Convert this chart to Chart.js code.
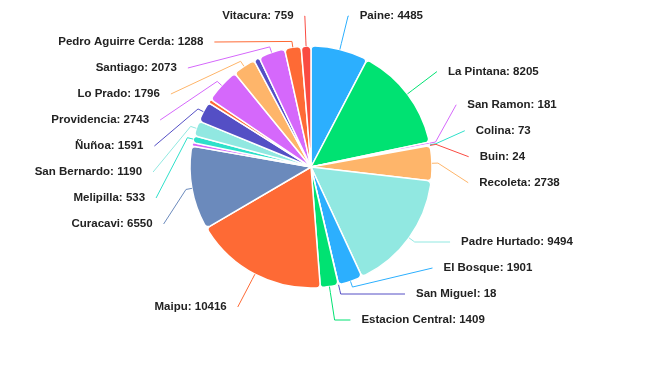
<!DOCTYPE html>
<html>
<head>
<meta charset="utf-8">
<script src="https://cdn.jsdelivr.net/npm/chart.js@4/dist/chart.umd.min.js"></script>
<style>
  html, body { margin: 0; padding: 0; background: #fff; }
  #chartCanvas { display: block; }
</style>
</head>
<body>
<canvas id="chartCanvas" width="650" height="365"></canvas>
<script>
// slices in drawing order, clockwise from 12 o'clock
// (the three '' entries are thin slices whose labels are not shown)
const comunas = ['Paine', 'La Pintana', 'San Ramon', 'Colina', 'Buin', 'Recoleta', 'Padre Hurtado',
    'El Bosque', 'San Miguel', 'Estacion Central', 'Maipu', 'Curacavi', '', 'Melipilla',
    'San Bernardo', 'Ñuñoa', '', 'Providencia', 'Lo Prado', '', 'Santiago', 'Pedro Aguirre Cerda', 'Vitacura']
const valores = [4485, 8205, 181, 73, 24, 2738, 9494,
    1901, 18, 1409, 10416, 6550, 280, 533,
    1190, 1591, 300, 2743, 1796, 450, 2073, 1288, 759]
const colores = ['#2caffe', '#00e272', '#d568fb', '#2ee0ca', '#fa4b42', '#feb56a', '#91e8e1',
    '#2caffe', '#544fc5', '#00e272', '#fe6a35', '#6b8abc', '#d568fb', '#2ee0ca',
    '#91e8e1', '#544fc5', '#fe6a35', '#d568fb', '#feb56a', '#544fc5', '#d568fb', '#fe6a35', '#fa4b42']

const LABEL_DIST = 37   // distance of label circle outside the pie
const ROW = 26          // vertical room for one label
const TOP = 16, BOTTOM = 320

// push overlapping labels apart, keeping each cluster centred on its targets
function spread(items) {
    items.sort((a, b) => a.target - b.target)
    const place = g => {
        const n = g.items.length
        let start = g.sum / n - (n - 1) * ROW / 2
        g.start = Math.max(TOP, Math.min(start, BOTTOM - (n - 1) * ROW))
    }
    let groups = items.map(it => ({ items: [it], sum: it.target }))
    groups.forEach(place)
    let changed = true
    while (changed) {
        changed = false
        for (let i = 0; i < groups.length - 1; i++) {
            const a = groups[i], b = groups[i + 1]
            if (a.start + a.items.length * ROW > b.start) {
                a.items.push(...b.items)
                a.sum += b.sum
                groups.splice(i + 1, 1)
                place(a)
                changed = true
                break
            }
        }
    }
    groups.forEach(g => g.items.forEach((it, k) => { it.y = g.start + k * ROW }))
}

const outLabels = {
    id: 'outLabels',
    afterDatasetsDraw(chart) {
        const ctx = chart.ctx
        const meta = chart.getDatasetMeta(0)
        const left = [], right = []
        meta.data.forEach((arc, i) => {
            if (!comunas[i]) return
            const p = arc.getProps(['x', 'y', 'startAngle', 'endAngle', 'outerRadius'], true)
            const mid = (p.startAngle + p.endAngle) / 2
            const R = p.outerRadius + LABEL_DIST
            const item = { i, mid, cx: p.x, cy: p.y, r: p.outerRadius, R, target: p.y + Math.sin(mid) * R }
            if (Math.cos(mid) >= 0) right.push(item)
            else left.push(item)
        })
        spread(left)
        spread(right)

        ctx.save()
        ctx.font = 'bold 11.5px "Liberation Sans", Arial, sans-serif'
        ctx.textBaseline = 'middle'
        const all = left.map(it => [it, -1]).concat(right.map(it => [it, 1]))
        all.forEach(([it, side]) => {
            const dy = it.y - it.cy
            const cos = Math.cos(it.mid), sin = Math.sin(it.mid)
            // a label only nudged down from above the top keeps its natural x,
            // the others follow the label circle
            const nudged = it.target < TOP && it.y - it.target < 10
            const ax = nudged ? it.cx + cos * it.R
                : it.cx + side * Math.sqrt(Math.max(it.R * it.R - dy * dy, 0))
            const touch = [it.cx + cos * it.r, it.cy + sin * it.r]
            const brk = [it.cx + cos * (it.r + 6), it.cy + sin * (it.r + 6)]
            const pts = [[ax, it.y]]
            if (Math.abs(sin) > 1e-3) {
                const crookX = it.cx + dy * cos / sin
                const ok = side > 0 ? (crookX <= ax && crookX >= brk[0]) : (crookX >= ax && crookX <= brk[0])
                if (ok) pts.push([crookX, it.y])
            }
            pts.push(brk, touch)
            ctx.strokeStyle = colores[it.i]
            ctx.lineWidth = 1
            ctx.beginPath()
            pts.forEach((q, k) => k ? ctx.lineTo(q[0], q[1]) : ctx.moveTo(q[0], q[1]))
            ctx.stroke()

            ctx.fillStyle = '#222'
            ctx.textAlign = side > 0 ? 'left' : 'right'
            ctx.fillText(comunas[it.i] + ': ' + valores[it.i], ax + side * 11, it.y)
        })
        ctx.restore()
    }
}

const chart = new Chart(document.getElementById('chartCanvas'), {
    type: 'pie',
    data: {
        labels: comunas,
        datasets: [{
            data: valores,
            backgroundColor: colores,
            borderColor: '#ffffff',
            borderWidth: 1.5,
            borderRadius: 4,
            radius: 121
        }]
    },
    options: {
        responsive: false,
        animation: false,
        layout: { padding: { left: 0, top: 0, right: 28, bottom: 31 } },
        plugins: {
            legend: { display: false },
            tooltip: { enabled: false }
        }
    },
    plugins: [outLabels]
})
</script>
</body>
</html>
